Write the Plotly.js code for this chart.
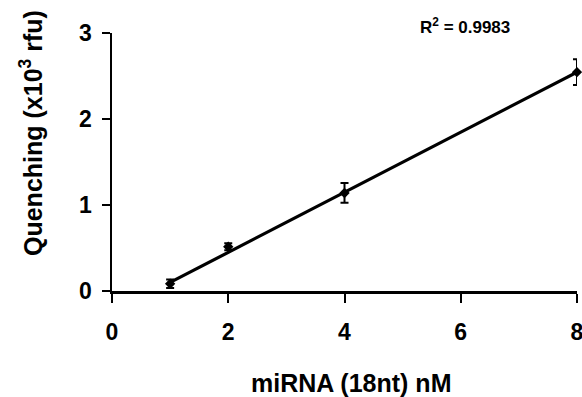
<!DOCTYPE html>
<html>
<head>
<meta charset="utf-8">
<script src="https://cdn.plot.ly/plotly-3.0.1.min.js"></script>
<style>
html,body{margin:0;padding:0;background:#fff;overflow:hidden;}
#chart{width:582px;height:397px;}
</style>
</head>
<body>
<div id="chart"></div>
<script>
var concentration = [1, 2, 4, 8];
var quenching = [0.085, 0.515, 1.14, 2.545];
var quenchingErr = [0.05, 0.04, 0.115, 0.15];
var trendX = [1, 8];
var trendY = [0.1, 2.545];
var xTicks = [0, 2, 4, 6, 8];
var yTicks = [0, 1, 2, 3];

var font = "Arial, 'Liberation Sans', sans-serif";

var trend = {
  x: trendX,
  y: trendY,
  type: 'scatter',
  mode: 'lines',
  line: {color: '#000', width: 3.2},
  cliponaxis: false,
  showlegend: false
};

var points = {
  x: concentration,
  y: quenching,
  type: 'scatter',
  mode: 'markers',
  marker: {symbol: 'diamond', size: 8, color: '#000'},
  error_y: {type: 'data', array: quenchingErr, visible: true, color: '#000', thickness: 2, width: 4},
  cliponaxis: false,
  showlegend: false
};

var layout = {
  width: 582,
  height: 397,
  margin: {l: 112, r: 5, t: 33, b: 106},
  paper_bgcolor: '#fff',
  plot_bgcolor: '#fff',
  font: {family: font, color: '#000'},
  xaxis: {
    range: [0, 8],
    tickvals: xTicks,
    ticktext: xTicks.map(String),
    ticks: 'outside',
    ticklen: 9,
    tickwidth: 2,
    tickcolor: '#000',
    showline: true,
    linecolor: '#000',
    linewidth: 2.5,
    showgrid: false,
    zeroline: false,
    ticklabelstandoff: 10,
    ticklabeloverflow: 'allow',
    tickfont: {family: font, size: 23, color: '#000', weight: 'bold'}
  },
  yaxis: {
    range: [0, 3],
    tickvals: yTicks,
    ticktext: yTicks.map(String),
    ticks: 'outside',
    ticklen: 8,
    tickwidth: 2,
    tickcolor: '#000',
    showline: true,
    linecolor: '#000',
    linewidth: 2.5,
    showgrid: false,
    zeroline: false,
    ticklabelstandoff: 5,
    ticklabeloverflow: 'allow',
    tickfont: {family: font, size: 23, color: '#000', weight: 'bold'}
  },
  annotations: [
    {
      text: 'R<sup>2</sup> = 0.9983',
      xref: 'paper', yref: 'paper',
      x: (465 - 112) / 465, y: 1 + (33 - 26) / 258,
      xanchor: 'center', yanchor: 'middle',
      showarrow: false,
      font: {family: font, size: 17, color: '#000', weight: 'bold'}
    },
    {
      text: 'miRNA (18nt) nM',
      xref: 'paper', yref: 'paper',
      x: (351 - 112) / 465, y: -(383 - 291) / 258,
      xanchor: 'center', yanchor: 'middle',
      showarrow: false,
      font: {family: font, size: 25, color: '#000', weight: 'bold'}
    },
    {
      text: 'Quenching (x10<sup>3</sup> rfu)',
      xref: 'paper', yref: 'paper',
      x: -(112 - 31) / 465, y: (291 - 133) / 258,
      xanchor: 'center', yanchor: 'middle',
      textangle: -90,
      showarrow: false,
      font: {family: font, size: 25, color: '#000', weight: 'bold'}
    }
  ]
};

Plotly.newPlot('chart', [trend, points], layout, {displayModeBar: false, staticPlot: true});
</script>
</body>
</html>
